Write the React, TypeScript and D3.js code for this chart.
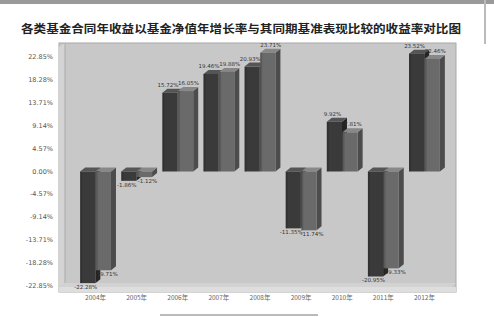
import React from 'react';
import * as d3 from 'd3';

// chart data
const categories = ['2004年', '2005年', '2006年', '2007年', '2008年', '2009年', '2010年', '2011年', '2012年'];
const seriesA = [-22.28, -1.86, 15.72, 19.46, 20.93, -11.35, 9.92, -20.95, 23.52];
const seriesB = [-19.71, -1.12, 16.05, 19.88, 23.71, -11.74, 7.81, -19.33, 22.46];
const yTicks = [22.85, 18.28, 13.71, 9.14, 4.57, 0, -4.57, -9.14, -13.71, -18.28, -22.85];
const title = '各类基金合同年收益以基金净值年增长率与其同期基准表现比较的收益率对比图';

const W = 494;
const H = 317;
const plot = {left: 59, right: 456, top: 43, bottom: 292};
const depth = {dx: 5, dy: -4};

const series = [
    {values: seriesA, front: '#3a3a3a', side: '#252525', top: '#555'},
    {values: seriesB, front: '#6a6a6a', side: '#4c4c4c', top: '#888'},
];

export default function App() {
    const y = d3.scaleLinear().domain([-22.85, 22.85]).range([286, 57]);
    const x = d3.scaleBand().domain(categories).range([75, 445]).paddingInner(0.25).paddingOuter(0.125);
    const inner = d3.scaleBand().domain(['0', '1']).range([0, x.bandwidth()]).paddingInner(0.03);
    const fmt = (v: number) => v.toFixed(2) + '%';

    const bars: any[] = [];
    const labels: any[] = [];
    categories.forEach((c, i) => {
        series.forEach((s, j) => {
            const v = s.values[i];
            const x0 = (x(c) as number) + (inner(String(j)) as number);
            const w = inner.bandwidth();
            const yTop = Math.min(y(v), y(0));
            const yBot = Math.max(y(v), y(0));
            const {dx, dy} = depth;
            bars.push(
                <g key={c + j}>
                    <polygon fill={s.side}
                             points={`${x0 + w},${yTop} ${x0 + w + dx},${yTop + dy} ${x0 + w + dx},${yBot + dy} ${x0 + w},${yBot}`}/>
                    <polygon fill={s.top}
                             points={`${x0},${yTop} ${x0 + dx},${yTop + dy} ${x0 + w + dx},${yTop + dy} ${x0 + w},${yTop}`}/>
                    <rect x={x0} y={yTop} width={w} height={yBot - yTop} fill={s.front}/>
                    <rect x={x0} y={yTop} width={2} height={yBot - yTop} fill="#000" opacity={0.15}/>
                </g>
            );
            labels.push(
                <text key={'l' + c + j} x={x0 + w / 2 + (j === 0 ? -2 : 3)} y={v >= 0 ? y(v) - 6 : y(v) + 6}
                      textAnchor="middle" fontSize={5.5} fill="#333">{fmt(v)}</text>
            );
        });
    });

    return (
        <svg width={W} height={H} style={{position: 'absolute', left: 0, top: 0, background: '#fff'}}
             fontFamily="'DejaVu Sans', sans-serif">
            {/* remnants of the page above the chart */}
            <rect x={0} y={0} width={W} height={4} fill="#9a9a9a"/>
            <rect x={484} y={0} width={2} height={44} fill="#bbb"/>

            <text x={241} y={33} textAnchor="middle" fontSize={11} fontWeight="bold" fill="#222"
                  textLength={440} lengthAdjust="spacingAndGlyphs"
                  fontFamily="'Noto Sans CJK SC', sans-serif">{title}</text>

            {/* plot area with walls and floor */}
            <rect x={plot.left} y={plot.top} width={plot.right - plot.left} height={plot.bottom - plot.top}
                  fill="#c8c8c8" stroke="#a8a8a8" strokeWidth={1}/>
            <polygon fill="#d4d4d4"
                     points={`${plot.left},${plot.top + 4} ${plot.left + 6},${plot.top} ${plot.left + 6},${plot.bottom - 9} ${plot.left},${plot.bottom - 5}`}/>
            <polygon fill="#d2d2d2"
                     points={`${plot.left},${plot.bottom - 5} ${plot.left + 6},${plot.bottom - 9} ${plot.right},${plot.bottom - 9} ${plot.right - 4},${plot.bottom - 5}`}/>
            <rect x={plot.left} y={plot.bottom - 5} width={plot.right - plot.left} height={5} fill="#dedede"/>
            <line x1={plot.left + 6} x2={plot.left + 6} y1={plot.top} y2={plot.bottom - 9} stroke="#aaa"/>

            {yTicks.map(t => (
                <text key={t} x={53} y={y(t) + 2} textAnchor="end" fontSize={6.5} fill="#555">{fmt(t)}</text>
            ))}

            {bars}
            {labels}

            {categories.map(c => (
                <text key={c} x={(x(c) as number) + x.bandwidth() / 2} y={300} textAnchor="middle"
                      fontSize={6.5} fill="#666" fontFamily="'Noto Sans CJK SC', sans-serif">{c}</text>
            ))}
            <line x1={160} x2={318} y1={315} y2={315} stroke="#777" strokeWidth={1}/>
        </svg>
    );
}
